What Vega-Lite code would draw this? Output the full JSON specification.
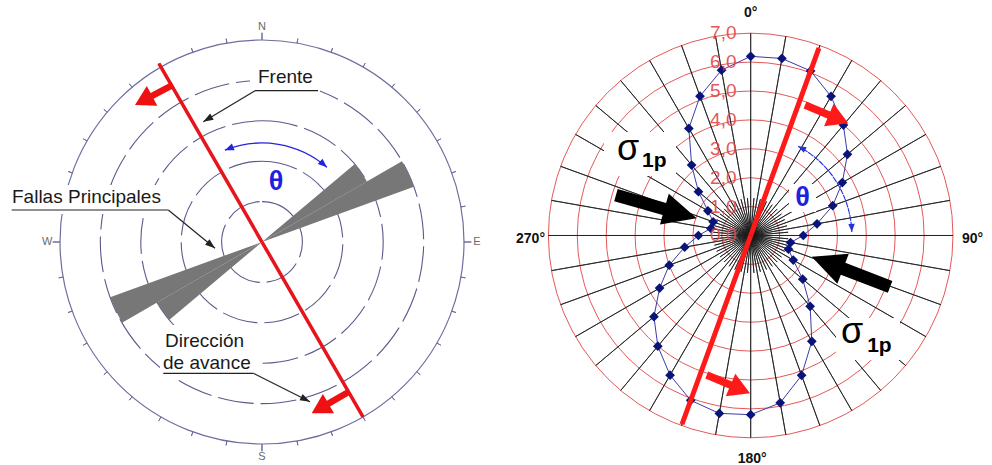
{
"$schema":"https://vega.github.io/schema/vega-lite/v6.json",
"background":"white",
"padding":0,
"spacing":0,
"bounds":"flush",
"config":{"view":{"stroke":null},"axis":{"disable":true},"legend":{"disable":true},"font":"Liberation Sans"},
"resolve":{"scale":{"x":"independent","y":"independent","theta":"independent","radius":"independent","color":"independent"}},
"hconcat":[
{"width":500,"height":465,"layer":[
 {"data":{"values":[{"r":1},{"r":2},{"r":3},{"r":4}]},
  "mark":{"type":"arc","theta":0,"theta2":6.2832,"filled":false,"stroke":"#5a5a8c","strokeWidth":1.1,"strokeDash":[36,7]},
  "encoding":{"x":{"datum":0,"type":"quantitative","scale":{"domain":[-6.4851,5.8911],"nice":false,"zero":false}},"y":{"datum":0,"type":"quantitative","scale":{"domain":[-5.5198,5.9901],"nice":false,"zero":false}},"radius":{"field":"r","type":"quantitative","stack":null,"scale":{"type":"linear","domain":[0,5],"range":[0,202],"nice":false}}}},
 {"data":{"values":[{"r":5}]},
  "mark":{"type":"arc","theta":0,"theta2":6.2832,"filled":false,"stroke":"#6e6ea0","strokeWidth":1.2},
  "encoding":{"x":{"datum":0,"type":"quantitative","scale":{"domain":[-6.4851,5.8911],"nice":false,"zero":false}},"y":{"datum":0,"type":"quantitative","scale":{"domain":[-5.5198,5.9901],"nice":false,"zero":false}},"radius":{"field":"r","type":"quantitative","stack":null,"scale":{"type":"linear","domain":[0,5],"range":[0,202],"nice":false}}}},
 {"data":{"values":[{"a":10},{"a":20},{"a":30},{"a":40},{"a":50},{"a":60},{"a":70},{"a":80},{"a":100},{"a":110},{"a":120},{"a":130},{"a":140},{"a":150},{"a":160},{"a":170},{"a":190},{"a":200},{"a":210},{"a":220},{"a":230},{"a":240},{"a":250},{"a":260},{"a":280},{"a":290},{"a":300},{"a":310},{"a":320},{"a":330},{"a":340},{"a":350}]},
  "mark":{"type":"arc","filled":false,"stroke":"#6e6ea0","strokeWidth":1},
  "encoding":{"x":{"datum":0,"type":"quantitative","scale":{"domain":[-6.4851,5.8911],"nice":false,"zero":false}},"y":{"datum":0,"type":"quantitative","scale":{"domain":[-5.5198,5.9901],"nice":false,"zero":false}},"theta":{"field":"a","type":"quantitative","scale":{"domain":[0,360],"range":[0,6.283185307179586],"nice":false,"zero":false},"stack":null},"theta2":{"field":"a"},"radius":{"datum":5.11,"type":"quantitative","scale":{"type":"linear","domain":[0,5],"range":[0,202],"nice":false}},"radius2":{"datum":5}}},
 {"data":{"values":[{"d":"N","a":0},{"d":"E","a":90},{"d":"S","a":180},{"d":"W","a":270}]},
  "layer":[
   {"mark":{"type":"arc","filled":false,"stroke":"#6e6ea0","strokeWidth":1},
    "encoding":{"x":{"datum":0,"type":"quantitative","scale":{"domain":[-6.4851,5.8911],"nice":false,"zero":false}},"y":{"datum":0,"type":"quantitative","scale":{"domain":[-5.5198,5.9901],"nice":false,"zero":false}},"theta":{"field":"a","type":"quantitative","scale":{"domain":[0,360],"range":[0,6.283185307179586],"nice":false,"zero":false},"stack":null},"theta2":{"field":"a"},"radius":{"datum":5.18,"type":"quantitative","scale":{"type":"linear","domain":[0,5],"range":[0,202],"nice":false}},"radius2":{"datum":5}}},
   {"mark":{"type":"text","fontSize":11,"fill":"#6a6a6a","align":"center","baseline":"middle"},
    "encoding":{"x":{"datum":0,"type":"quantitative","scale":{"domain":[-6.4851,5.8911],"nice":false,"zero":false}},"y":{"datum":0,"type":"quantitative","scale":{"domain":[-5.5198,5.9901],"nice":false,"zero":false}},"theta":{"field":"a","type":"quantitative","scale":{"domain":[0,360],"range":[0,6.283185307179586],"nice":false,"zero":false},"stack":null},"radius":{"datum":5.32,"type":"quantitative","scale":{"type":"linear","domain":[0,5],"range":[0,202],"nice":false}},"text":{"field":"d"}}}
  ]},
 {"data":{"values":[{"a0":50,"a1":60,"r":3},{"a0":60,"a1":70,"r":4},{"a0":230,"a1":240,"r":3},{"a0":240,"a1":250,"r":4}]},
  "mark":{"type":"arc","fill":"#777777"},
  "encoding":{"x":{"datum":0,"type":"quantitative","scale":{"domain":[-6.4851,5.8911],"nice":false,"zero":false}},"y":{"datum":0,"type":"quantitative","scale":{"domain":[-5.5198,5.9901],"nice":false,"zero":false}},"theta":{"field":"a0","type":"quantitative","scale":{"domain":[0,360],"range":[0,6.283185307179586],"nice":false,"zero":false},"stack":null},"theta2":{"field":"a1"},"radius":{"field":"r","type":"quantitative","stack":null,"scale":{"type":"linear","domain":[0,5],"range":[0,202],"nice":false}}}},
 {"data":{"values":[{"x":-0.297,"x2":1.436,"y":4.455,"y2":3.639},{"x":-6.287,"x2":-2.277,"y":1.411,"y2":0.693},{"x":-2.525,"x2":-0.099,"y":-2.054,"y2":-3.366}]},
  "mark":{"type":"rect","fill":"white"},
  "encoding":{"x":{"field":"x","type":"quantitative","scale":{"domain":[-6.4851,5.8911],"nice":false,"zero":false}},"x2":{"field":"x2"},"y":{"field":"y","type":"quantitative","scale":{"domain":[-5.5198,5.9901],"nice":false,"zero":false}},"y2":{"field":"y2"}}},
 {"data":{"values":[{"a":330,"r":5.1},{"a":150,"r":5.0}]},
  "mark":{"type":"arc","filled":false,"stroke":"#e8141c","strokeWidth":3.5},
  "encoding":{"x":{"datum":0,"type":"quantitative","scale":{"domain":[-6.4851,5.8911],"nice":false,"zero":false}},"y":{"datum":0,"type":"quantitative","scale":{"domain":[-5.5198,5.9901],"nice":false,"zero":false}},"theta":{"field":"a","type":"quantitative","scale":{"domain":[0,360],"range":[0,6.283185307179586],"nice":false,"zero":false},"stack":null},"theta2":{"field":"a"},"radius":{"field":"r","type":"quantitative","stack":null,"scale":{"type":"linear","domain":[0,5],"range":[0,202],"nice":false}}}},
 {"data":{"values":[{"x":-3.144,"y":3.391,"dir":242},{"x":1.23,"y":-4.24,"dir":240}]},
  "mark":{"type":"point","shape":"M0,0 L0.26,0.45 L0.075,0.45 L0.075,1 L-0.075,1 L-0.075,0.45 L-0.26,0.45 Z","size":7396,"filled":true,"fill":"#ee1111","opacity":1,"strokeWidth":0},
  "encoding":{"x":{"field":"x","type":"quantitative","scale":{"domain":[-6.4851,5.8911],"nice":false,"zero":false}},"y":{"field":"y","type":"quantitative","scale":{"domain":[-5.5198,5.9901],"nice":false,"zero":false}},"angle":{"field":"dir","type":"quantitative","scale":null}}},
 {"data":{"values":[{"x":-0.173,"y":3.745,"x2":1.386,"y2":3.745},{"x":-0.173,"y":3.745,"x2":-1.453,"y2":2.978},{"x":-6.196,"y":0.792,"x2":-2.319,"y2":0.792},{"x":-2.319,"y":0.792,"x2":-1.163,"y2":-0.156},{"x":-2.443,"y":-3.25,"x2":-0.215,"y2":-3.25},{"x":-0.215,"y":-3.25,"x2":1.188,"y2":-3.953}]},
  "mark":{"type":"rule","color":"#222222","strokeWidth":1.2},
  "encoding":{"x":{"field":"x","type":"quantitative","scale":{"domain":[-6.4851,5.8911],"nice":false,"zero":false}},"x2":{"field":"x2"},"y":{"field":"y","type":"quantitative","scale":{"domain":[-5.5198,5.9901],"nice":false,"zero":false}},"y2":{"field":"y2"}}},
 {"data":{"values":[{"x":-1.453,"y":2.978,"dir":239.5},{"x":-1.163,"y":-0.156,"dir":129.4},{"x":1.188,"y":-3.953,"dir":116.6}]},
  "mark":{"type":"point","shape":"M0,0 L0.35,1 L-0.35,1 Z","size":400,"filled":true,"fill":"#222222","opacity":1,"strokeWidth":0},
  "encoding":{"x":{"field":"x","type":"quantitative","scale":{"domain":[-6.4851,5.8911],"nice":false,"zero":false}},"y":{"field":"y","type":"quantitative","scale":{"domain":[-5.5198,5.9901],"nice":false,"zero":false}},"angle":{"field":"dir","type":"quantitative","scale":null}}},
 {"data":{"values":[{"a0":-22,"a1":41,"r":2.45}]},
  "mark":{"type":"arc","filled":false,"stroke":"#2424dd","strokeWidth":1.3},
  "encoding":{"x":{"datum":0,"type":"quantitative","scale":{"domain":[-6.4851,5.8911],"nice":false,"zero":false}},"y":{"datum":0,"type":"quantitative","scale":{"domain":[-5.5198,5.9901],"nice":false,"zero":false}},"theta":{"field":"a0","type":"quantitative","scale":{"domain":[0,360],"range":[0,6.283185307179586],"nice":false,"zero":false},"stack":null},"theta2":{"field":"a1"},"radius":{"field":"r","type":"quantitative","stack":null,"scale":{"type":"linear","domain":[0,5],"range":[0,202],"nice":false}},"radius2":{"field":"r"}}},
 {"data":{"values":[{"x":-0.918,"y":2.272,"dir":248},{"x":1.607,"y":1.849,"dir":131}]},
  "mark":{"type":"point","shape":"M0,0 L0.4,1 L-0.4,1 Z","size":324,"filled":true,"fill":"#2424dd","opacity":1,"strokeWidth":0},
  "encoding":{"x":{"field":"x","type":"quantitative","scale":{"domain":[-6.4851,5.8911],"nice":false,"zero":false}},"y":{"field":"y","type":"quantitative","scale":{"domain":[-5.5198,5.9901],"nice":false,"zero":false}},"angle":{"field":"dir","type":"quantitative","scale":null}}},
 {"data":{"values":[{"t":"Frente","x":-0.099,"y":3.936},{"t":"Fallas Principales","x":-6.188,"y":0.965},{"t":"Dirección","x":-2.401,"y":-2.599},{"t":"de avance","x":-2.45,"y":-3.144}]},
  "mark":{"type":"text","fontSize":19,"fill":"#1a1a1a","align":"left","baseline":"alphabetic"},
  "encoding":{"x":{"field":"x","type":"quantitative","scale":{"domain":[-6.4851,5.8911],"nice":false,"zero":false}},"y":{"field":"y","type":"quantitative","scale":{"domain":[-5.5198,5.9901],"nice":false,"zero":false}},"text":{"field":"t"}}},
 {"data":{"values":[{"t":"θ","x":0.347,"y":1.493}]},
  "mark":{"type":"text","fontSize":27,"fontWeight":"bold","fill":"#1f1fe0","align":"center","baseline":"middle"},
  "encoding":{"x":{"field":"x","type":"quantitative","scale":{"domain":[-6.4851,5.8911],"nice":false,"zero":false}},"y":{"field":"y","type":"quantitative","scale":{"domain":[-5.5198,5.9901],"nice":false,"zero":false}},"text":{"field":"t"}}}
]},
{"width":492,"height":465,"layer":[
 {"data":{"values":[{"r":1},{"r":2},{"r":3},{"r":4},{"r":5},{"r":6},{"r":7}]},
  "mark":{"type":"arc","theta":0,"theta2":6.2832,"filled":false,"stroke":"#e04545","strokeWidth":0.9},
  "encoding":{"x":{"datum":0,"type":"quantitative","scale":{"domain":[-8.6747,8.3495],"nice":false,"zero":false}},"y":{"datum":0,"type":"quantitative","scale":{"domain":[-7.9412,8.1488],"nice":false,"zero":false}},"radius":{"field":"r","type":"quantitative","stack":null,"scale":{"type":"linear","domain":[0,7],"range":[0,202.3],"nice":false}}}},
 {"data":{"values":[{"a":0},{"a":10},{"a":20},{"a":30},{"a":40},{"a":50},{"a":60},{"a":70},{"a":80},{"a":90},{"a":100},{"a":110},{"a":120},{"a":130},{"a":140},{"a":150},{"a":160},{"a":170},{"a":180},{"a":190},{"a":200},{"a":210},{"a":220},{"a":230},{"a":240},{"a":250},{"a":260},{"a":270},{"a":280},{"a":290},{"a":300},{"a":310},{"a":320},{"a":330},{"a":340},{"a":350}]},
  "mark":{"type":"arc","filled":false,"stroke":"#1a1a1a","strokeWidth":0.8},
  "encoding":{"x":{"datum":0,"type":"quantitative","scale":{"domain":[-8.6747,8.3495],"nice":false,"zero":false}},"y":{"datum":0,"type":"quantitative","scale":{"domain":[-7.9412,8.1488],"nice":false,"zero":false}},"theta":{"field":"a","type":"quantitative","scale":{"domain":[0,360],"range":[0,6.283185307179586],"nice":false,"zero":false},"stack":null},"theta2":{"field":"a"},"radius":{"datum":7,"type":"quantitative","scale":{"type":"linear","domain":[0,7],"range":[0,202.3],"nice":false}}}},
 {"data":{"values":[{"a":5},{"a":15},{"a":25},{"a":35},{"a":45},{"a":55},{"a":65},{"a":75},{"a":85},{"a":95},{"a":105},{"a":115},{"a":125},{"a":135},{"a":145},{"a":155},{"a":165},{"a":175},{"a":185},{"a":195},{"a":205},{"a":215},{"a":225},{"a":235},{"a":245},{"a":255},{"a":265},{"a":275},{"a":285},{"a":295},{"a":305},{"a":315},{"a":325},{"a":335},{"a":345},{"a":355}]},
  "mark":{"type":"arc","filled":false,"stroke":"#1a1a1a","strokeWidth":0.8},
  "encoding":{"x":{"datum":0,"type":"quantitative","scale":{"domain":[-8.6747,8.3495],"nice":false,"zero":false}},"y":{"datum":0,"type":"quantitative","scale":{"domain":[-7.9412,8.1488],"nice":false,"zero":false}},"theta":{"field":"a","type":"quantitative","scale":{"domain":[0,360],"range":[0,6.283185307179586],"nice":false,"zero":false},"stack":null},"theta2":{"field":"a"},"radius":{"datum":1.3,"type":"quantitative","scale":{"type":"linear","domain":[0,7],"range":[0,202.3],"nice":false}}}},
 {"data":{"values":[{"x":-5.076,"x2":-2.585,"y":3.581,"y2":2.059},{"x":2.952,"x2":5.166,"y":-2.855,"y2":-4.308},{"x":1.325,"x2":2.26,"y":1.782,"y2":0.813}]},
  "mark":{"type":"rect","fill":"white"},
  "encoding":{"x":{"field":"x","type":"quantitative","scale":{"domain":[-8.6747,8.3495],"nice":false,"zero":false}},"x2":{"field":"x2"},"y":{"field":"y","type":"quantitative","scale":{"domain":[-7.9412,8.1488],"nice":false,"zero":false}},"y2":{"field":"y2"}}},
 {"data":{"values":[{"a":0,"r":6.2},{"a":10,"r":6.22},{"a":20,"r":6.06},{"a":30,"r":5.56},{"a":40,"r":4.99},{"a":50,"r":4.37},{"a":60,"r":3.66},{"a":70,"r":3.02},{"a":80,"r":2.33},{"a":90,"r":1.82},{"a":100,"r":1.4},{"a":110,"r":1.39},{"a":120,"r":1.7},{"a":130,"r":2.35},{"a":140,"r":3.2},{"a":150,"r":4.23},{"a":160,"r":5.15},{"a":170,"r":5.88},{"a":180,"r":6.2},{"a":190,"r":6.25},{"a":200,"r":6.07},{"a":210,"r":5.58},{"a":220,"r":5.0},{"a":230,"r":4.37},{"a":240,"r":3.64},{"a":250,"r":3.0},{"a":260,"r":2.32},{"a":270,"r":1.81},{"a":280,"r":1.4},{"a":290,"r":1.38},{"a":300,"r":1.71},{"a":310,"r":2.36},{"a":320,"r":3.18},{"a":330,"r":4.28},{"a":340,"r":5.13},{"a":350,"r":5.81}]},
  "transform":[{"calculate":"datum.r*sin(datum.a*PI/180)","as":"px"},{"calculate":"datum.r*cos(datum.a*PI/180)","as":"py"}],
  "layer":[
   {"mark":{"type":"line","interpolate":"linear-closed","stroke":"#3c3ca8","strokeWidth":1},
    "encoding":{"x":{"field":"px","type":"quantitative","scale":{"domain":[-8.6747,8.3495],"nice":false,"zero":false}},"y":{"field":"py","type":"quantitative","scale":{"domain":[-7.9412,8.1488],"nice":false,"zero":false}},"order":{"field":"a","type":"quantitative"}}},
   {"mark":{"type":"point","shape":"diamond","size":95,"filled":true,"fill":"#0a1478","opacity":1,"strokeWidth":0},
    "encoding":{"x":{"field":"px","type":"quantitative","scale":{"domain":[-8.6747,8.3495],"nice":false,"zero":false}},"y":{"field":"py","type":"quantitative","scale":{"domain":[-7.9412,8.1488],"nice":false,"zero":false}}}}
  ]},
 {"data":{"values":[{"a":20,"r":6.9},{"a":200,"r":6.95}]},
  "mark":{"type":"arc","filled":false,"stroke":"#ff1a1a","strokeWidth":5},
  "encoding":{"x":{"datum":0,"type":"quantitative","scale":{"domain":[-8.6747,8.3495],"nice":false,"zero":false}},"y":{"datum":0,"type":"quantitative","scale":{"domain":[-7.9412,8.1488],"nice":false,"zero":false}},"theta":{"field":"a","type":"quantitative","scale":{"domain":[0,360],"range":[0,6.283185307179586],"nice":false,"zero":false},"stack":null},"theta2":{"field":"a"},"radius":{"field":"r","type":"quantitative","stack":null,"scale":{"type":"linear","domain":[0,7],"range":[0,202.3],"nice":false}}}},
 {"data":{"values":[{"x":3.377,"y":3.882,"dir":113},{"x":-0.024,"y":-5.46,"dir":113}]},
  "mark":{"type":"point","shape":"M0,0 L0.26,0.45 L0.08,0.45 L0.08,1 L-0.08,1 L-0.08,0.45 L-0.26,0.45 Z","size":8836,"filled":true,"fill":"#ff1a1a","opacity":1,"strokeWidth":0},
  "encoding":{"x":{"field":"x","type":"quantitative","scale":{"domain":[-8.6747,8.3495],"nice":false,"zero":false}},"y":{"field":"y","type":"quantitative","scale":{"domain":[-7.9412,8.1488],"nice":false,"zero":false}},"angle":{"field":"dir","type":"quantitative","scale":null}}},
 {"data":{"values":[{"x":-1.869,"y":0.595,"dir":106},{"x":2.111,"y":-0.734,"dir":291}]},
  "mark":{"type":"point","shape":"M0,0 L0.19,0.4 L0.075,0.4 L0.075,1 L-0.075,1 L-0.075,0.4 L-0.19,0.4 Z","size":28224,"filled":true,"fill":"#000000","opacity":1,"strokeWidth":0},
  "encoding":{"x":{"field":"x","type":"quantitative","scale":{"domain":[-8.6747,8.3495],"nice":false,"zero":false}},"y":{"field":"y","type":"quantitative","scale":{"domain":[-7.9412,8.1488],"nice":false,"zero":false}},"angle":{"field":"dir","type":"quantitative","scale":null}}},
 {"data":{"values":[{"a0":28,"a1":88,"r":3.5}]},
  "mark":{"type":"arc","filled":false,"stroke":"#2233dd","strokeWidth":1.1,"strokeDash":[4,3]},
  "encoding":{"x":{"datum":0,"type":"quantitative","scale":{"domain":[-8.6747,8.3495],"nice":false,"zero":false}},"y":{"datum":0,"type":"quantitative","scale":{"domain":[-7.9412,8.1488],"nice":false,"zero":false}},"theta":{"field":"a0","type":"quantitative","scale":{"domain":[0,360],"range":[0,6.283185307179586],"nice":false,"zero":false},"stack":null},"theta2":{"field":"a1"},"radius":{"field":"r","type":"quantitative","stack":null,"scale":{"type":"linear","domain":[0,7],"range":[0,202.3],"nice":false}},"radius2":{"field":"r"}}},
 {"data":{"values":[{"x":1.643,"y":3.09,"dir":298},{"x":3.498,"y":0.122,"dir":178}]},
  "mark":{"type":"point","shape":"M0,0 L0.4,1 L-0.4,1 Z","size":256,"filled":true,"fill":"#2233dd","opacity":1,"strokeWidth":0},
  "encoding":{"x":{"field":"x","type":"quantitative","scale":{"domain":[-8.6747,8.3495],"nice":false,"zero":false}},"y":{"field":"y","type":"quantitative","scale":{"domain":[-7.9412,8.1488],"nice":false,"zero":false}},"angle":{"field":"dir","type":"quantitative","scale":null}}},
 {"data":{"values":[{"r":0,"label":"0,0"},{"r":1,"label":"1,0"},{"r":2,"label":"2,0"},{"r":3,"label":"3,0"},{"r":4,"label":"4,0"},{"r":5,"label":"5,0"},{"r":6,"label":"6,0"},{"r":7,"label":"7,0"}]},
  "mark":{"type":"text","fontSize":19,"fill":"#e04848","opacity":0.9,"align":"center","baseline":"middle"},
  "encoding":{"x":{"datum":-0.948,"type":"quantitative","scale":{"domain":[-8.6747,8.3495],"nice":false,"zero":false}},"y":{"field":"r","type":"quantitative","scale":{"domain":[-7.9412,8.1488],"nice":false,"zero":false}},"text":{"field":"label"}}},
 {"data":{"values":[{"t":"0°","x":0,"y":7.571},{"t":"180°","x":0.05,"y":-7.872},{"t":"90°","x":7.675,"y":-0.26},{"t":"270°","x":-7.619,"y":-0.26}]},
  "mark":{"type":"text","fontSize":14,"fontWeight":"bold","fill":"#111111","align":"center","baseline":"alphabetic"},
  "encoding":{"x":{"field":"x","type":"quantitative","scale":{"domain":[-8.6747,8.3495],"nice":false,"zero":false}},"y":{"field":"y","type":"quantitative","scale":{"domain":[-7.9412,8.1488],"nice":false,"zero":false}},"text":{"field":"t"}}},
 {"data":{"values":[{"t":"σ","x":-4.626,"y":2.612},{"t":"σ","x":3.125,"y":-3.72}]},
  "mark":{"type":"text","fontSize":36,"fill":"#000000","align":"left","baseline":"alphabetic"},
  "encoding":{"x":{"field":"x","type":"quantitative","scale":{"domain":[-8.6747,8.3495],"nice":false,"zero":false}},"y":{"field":"y","type":"quantitative","scale":{"domain":[-7.9412,8.1488],"nice":false,"zero":false}},"text":{"field":"t"}}},
 {"data":{"values":[{"t":"1p","x":-3.76,"y":2.37},{"t":"1p","x":4.03,"y":-4.031}]},
  "mark":{"type":"text","fontSize":21,"fontWeight":"bold","fill":"#000000","align":"left","baseline":"alphabetic"},
  "encoding":{"x":{"field":"x","type":"quantitative","scale":{"domain":[-8.6747,8.3495],"nice":false,"zero":false}},"y":{"field":"y","type":"quantitative","scale":{"domain":[-7.9412,8.1488],"nice":false,"zero":false}},"text":{"field":"t"}}},
 {"data":{"values":[{"t":"θ","x":1.792,"y":1.298}]},
  "mark":{"type":"text","fontSize":27,"fontWeight":"bold","fill":"#1f1fe0","align":"center","baseline":"middle"},
  "encoding":{"x":{"field":"x","type":"quantitative","scale":{"domain":[-8.6747,8.3495],"nice":false,"zero":false}},"y":{"field":"y","type":"quantitative","scale":{"domain":[-7.9412,8.1488],"nice":false,"zero":false}},"text":{"field":"t"}}}
]}
]
}
